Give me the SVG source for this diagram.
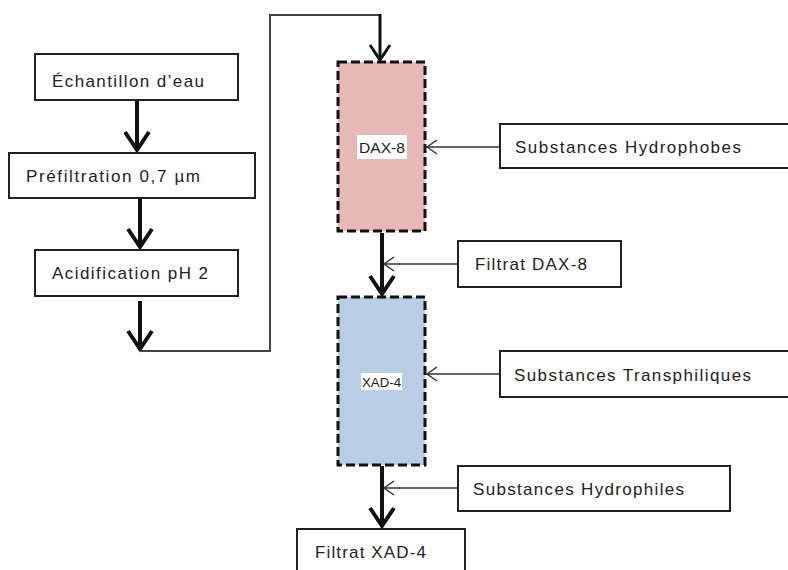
<svg xmlns="http://www.w3.org/2000/svg" width="788" height="570" viewBox="0 0 788 570">
<defs>
<style>
.box{fill:#fff;stroke:#222;stroke-width:2}
.col{stroke:#111;stroke-width:3;stroke-dasharray:9 4}
.lbl{font-family:"Liberation Sans",Arial,sans-serif;font-size:17px;fill:#222}
.small{font-family:"Liberation Sans",Arial,sans-serif;fill:#222}
.thick{fill:none;stroke:#111;stroke-width:4}
.mid{fill:none;stroke:#111;stroke-width:3}
.thin{fill:none;stroke:#333;stroke-width:1.5}
.route{fill:none;stroke:#444;stroke-width:2}
</style>
<marker id="hThick" markerUnits="userSpaceOnUse" orient="auto" overflow="visible" markerWidth="30" markerHeight="30" refX="0" refY="0">
<path d="M-18,-12 L0,0 L-18,12" fill="none" stroke="#111" stroke-width="4"/>
</marker>
<marker id="hMid" markerUnits="userSpaceOnUse" orient="auto" overflow="visible" markerWidth="30" markerHeight="30" refX="0" refY="0">
<path d="M-15,-10 L0,0 L-15,10" fill="none" stroke="#111" stroke-width="3"/>
</marker>
<marker id="hThin" markerUnits="userSpaceOnUse" orient="auto" overflow="visible" markerWidth="20" markerHeight="20" refX="0" refY="0">
<path d="M-10,-7 L0,0 L-10,7" fill="none" stroke="#333" stroke-width="1.5"/>
</marker>
</defs>
<rect width="788" height="570" fill="#fff"/>
<g id="connectors">
<line class="thick" x1="137" y1="101" x2="137" y2="150" marker-end="url(#hThick)"/>
<line class="thick" x1="140" y1="199" x2="140" y2="247" marker-end="url(#hThick)"/>
<line class="thick" x1="140" y1="301" x2="140" y2="349" marker-end="url(#hThick)"/>
<path class="route" d="M140,351 H270 V15 H380"/>
<line class="mid" x1="380" y1="14" x2="380" y2="60" marker-end="url(#hMid)"/>
<line class="thick" x1="382" y1="233" x2="382" y2="294" marker-end="url(#hThick)"/>
<line class="thick" x1="382" y1="466" x2="382" y2="526" marker-end="url(#hThick)"/>
<line class="thin" x1="500" y1="147" x2="427" y2="147" marker-end="url(#hThin)"/>
<line class="thin" x1="458" y1="264" x2="384" y2="264" marker-end="url(#hThin)"/>
<line class="thin" x1="500" y1="374" x2="427" y2="374" marker-end="url(#hThin)"/>
<line class="thin" x1="458" y1="488" x2="384" y2="488" marker-end="url(#hThin)"/>
</g>
<g id="echantillon">
<rect class="box" x="35" y="54" width="203" height="46"/>
<text class="lbl" x="52" y="87" textLength="152" lengthAdjust="spacing">Échantillon d’eau</text>
</g>
<g id="prefiltration">
<rect class="box" x="9" y="153" width="246" height="45"/>
<text class="lbl" x="26" y="182" textLength="174" lengthAdjust="spacing">Préfiltration 0,7 µm</text>
</g>
<g id="acidification">
<rect class="box" x="35" y="250" width="203" height="46"/>
<text class="lbl" x="52" y="279" textLength="156" lengthAdjust="spacing">Acidification pH 2</text>
</g>
<g id="dax8">
<rect class="col" x="338" y="62" width="87" height="169" fill="#e6b8b7"/>
<rect x="357" y="135" width="50" height="24" fill="#fff"/>
<text class="small" x="359" y="153" font-size="15" textLength="46" lengthAdjust="spacingAndGlyphs">DAX-8</text>
</g>
<g id="xad4">
<rect class="col" x="338" y="297" width="87" height="168" fill="#b9cde5"/>
<rect x="361" y="373" width="41" height="17" fill="#fff"/>
<text class="small" x="362" y="387" font-size="13" textLength="39" lengthAdjust="spacingAndGlyphs">XAD-4</text>
</g>
<g id="hydrophobes">
<rect class="box" x="500" y="124" width="300" height="44"/>
<text class="lbl" x="515" y="153" textLength="226" lengthAdjust="spacing">Substances Hydrophobes</text>
</g>
<g id="filtrat-dax8">
<rect class="box" x="458" y="241" width="163" height="46"/>
<text class="lbl" x="475" y="270" textLength="112" lengthAdjust="spacing">Filtrat DAX-8</text>
</g>
<g id="transphiliques">
<rect class="box" x="500" y="351" width="300" height="46"/>
<text class="lbl" x="514" y="381" textLength="237" lengthAdjust="spacing">Substances Transphiliques</text>
</g>
<g id="hydrophiles">
<rect class="box" x="458" y="466" width="272" height="45"/>
<text class="lbl" x="473" y="495" textLength="211" lengthAdjust="spacing">Substances Hydrophiles</text>
</g>
<g id="filtrat-xad4">
<rect class="box" x="297" y="529" width="168" height="60"/>
<text class="lbl" x="315" y="558" textLength="111" lengthAdjust="spacing">Filtrat XAD-4</text>
</g>
</svg>
